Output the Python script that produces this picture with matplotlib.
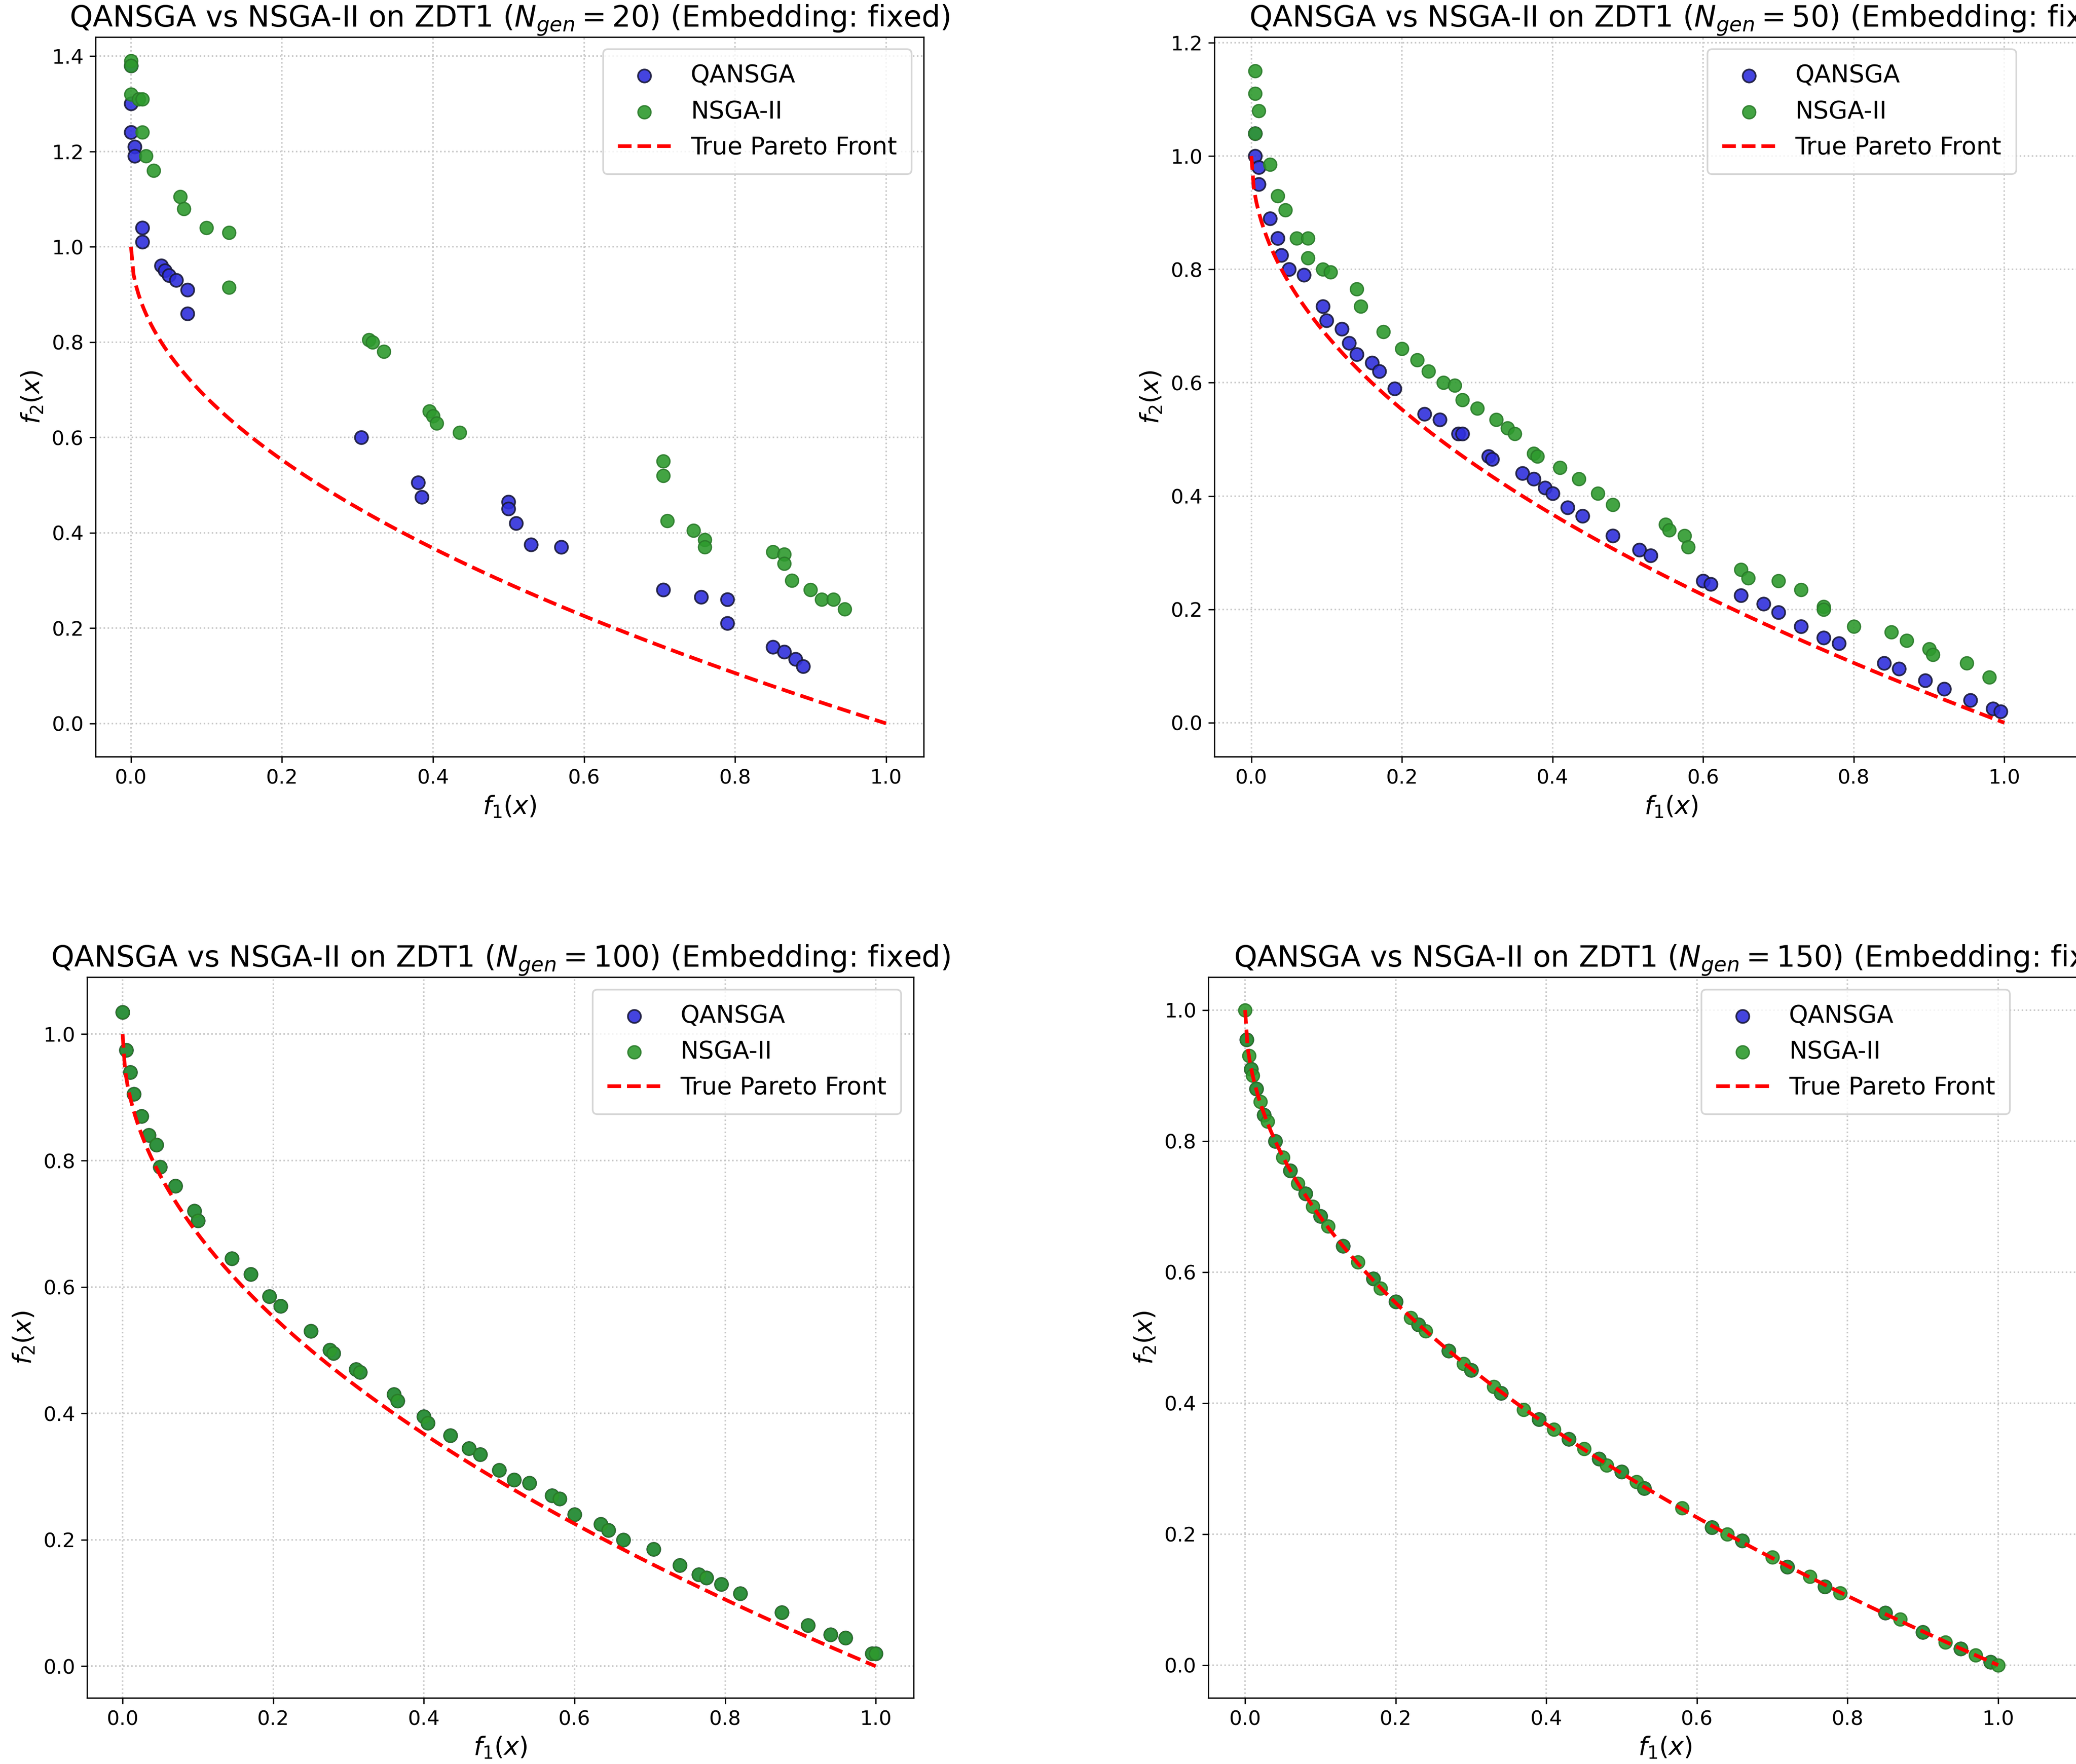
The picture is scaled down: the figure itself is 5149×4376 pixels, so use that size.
import numpy as np
import matplotlib
matplotlib.use("Agg")
import matplotlib.pyplot as plt

GENS = [20, 50, 100, 150]

# ---- N_gen = 20 ----
q20_f1 = [0, 0, 0, 0.005, 0.005, 0.015, 0.015, 0.04, 0.045, 0.05, 0.06, 0.075, 0.075, 0.305, 0.38, 0.385,
          0.5, 0.5, 0.51, 0.53, 0.57, 0.705, 0.755, 0.79, 0.79, 0.85, 0.865, 0.88, 0.89]
q20_f2 = [1.38, 1.30, 1.24, 1.21, 1.19, 1.04, 1.01, 0.96, 0.95, 0.94, 0.93, 0.91, 0.86, 0.60, 0.505, 0.475,
          0.465, 0.45, 0.42, 0.375, 0.37, 0.28, 0.265, 0.26, 0.21, 0.16, 0.15, 0.135, 0.12]
n20_f1 = [0, 0, 0, 0.01, 0.015, 0.015, 0.02, 0.03, 0.065, 0.07, 0.1, 0.13, 0.13, 0.315, 0.32, 0.335, 0.395,
          0.4, 0.405, 0.435, 0.705, 0.705, 0.71, 0.745, 0.76, 0.76, 0.85, 0.865, 0.865, 0.875, 0.9, 0.915, 0.93, 0.945]
n20_f2 = [1.39, 1.38, 1.32, 1.31, 1.31, 1.24, 1.19, 1.16, 1.105, 1.08, 1.04, 1.03, 0.915, 0.805, 0.80, 0.78,
          0.655, 0.645, 0.63, 0.61, 0.55, 0.52, 0.425, 0.405, 0.385, 0.37, 0.36, 0.355, 0.335, 0.30, 0.28, 0.26, 0.26, 0.24]

# ---- N_gen = 50 ----
q50_f1 = [0.005, 0.005, 0.01, 0.01, 0.025, 0.035, 0.04, 0.05, 0.07, 0.095, 0.1, 0.12, 0.13, 0.14, 0.16, 0.17,
          0.19, 0.23, 0.25, 0.275, 0.28, 0.315, 0.32, 0.36, 0.375, 0.39, 0.4, 0.42, 0.44, 0.48, 0.515, 0.53,
          0.6, 0.61, 0.65, 0.68, 0.7, 0.73, 0.76, 0.78, 0.84, 0.86, 0.895, 0.92, 0.955, 0.985, 0.995]
q50_f2 = [1.04, 1.0, 0.98, 0.95, 0.89, 0.855, 0.825, 0.8, 0.79, 0.735, 0.71, 0.695, 0.67, 0.65, 0.635, 0.62,
          0.59, 0.545, 0.535, 0.51, 0.51, 0.47, 0.465, 0.44, 0.43, 0.415, 0.405, 0.38, 0.365, 0.33, 0.305, 0.295,
          0.25, 0.245, 0.225, 0.21, 0.195, 0.17, 0.15, 0.14, 0.105, 0.095, 0.075, 0.06, 0.04, 0.025, 0.02]
n50_f1 = [0.005, 0.005, 0.01, 0.005, 0.025, 0.035, 0.045, 0.06, 0.075, 0.075, 0.095, 0.105, 0.14, 0.145,
          0.175, 0.2, 0.22, 0.235, 0.255, 0.27, 0.28, 0.3, 0.325, 0.34, 0.35, 0.375, 0.38, 0.41, 0.435, 0.46,
          0.48, 0.55, 0.555, 0.575, 0.58, 0.65, 0.66, 0.7, 0.73, 0.76, 0.76, 0.8, 0.85, 0.87, 0.9, 0.905, 0.95, 0.98]
n50_f2 = [1.15, 1.11, 1.08, 1.04, 0.985, 0.93, 0.905, 0.855, 0.855, 0.82, 0.8, 0.795, 0.765, 0.735, 0.69,
          0.66, 0.64, 0.62, 0.6, 0.595, 0.57, 0.555, 0.535, 0.52, 0.51, 0.475, 0.47, 0.45, 0.43, 0.405, 0.385,
          0.35, 0.34, 0.33, 0.31, 0.27, 0.255, 0.25, 0.235, 0.205, 0.2, 0.17, 0.16, 0.145, 0.13, 0.12, 0.105, 0.08]

# ---- N_gen = 100 (both algorithms overlap) ----
p100_f1 = [0, 0.005, 0.01, 0.015, 0.025, 0.035, 0.045, 0.05, 0.07, 0.095, 0.1, 0.145, 0.17, 0.195, 0.21, 0.25,
           0.275, 0.28, 0.31, 0.315, 0.36, 0.365, 0.4, 0.405, 0.435, 0.46, 0.475, 0.5, 0.52, 0.54, 0.57, 0.58,
           0.6, 0.635, 0.645, 0.665, 0.705, 0.74, 0.765, 0.775, 0.795, 0.82, 0.875, 0.91, 0.94, 0.96, 0.995, 1.0]
p100_f2 = [1.035, 0.975, 0.94, 0.905, 0.87, 0.84, 0.825, 0.79, 0.76, 0.72, 0.705, 0.645, 0.62, 0.585, 0.57,
           0.53, 0.5, 0.495, 0.47, 0.465, 0.43, 0.42, 0.395, 0.385, 0.365, 0.345, 0.335, 0.31, 0.295, 0.29, 0.27,
           0.265, 0.24, 0.225, 0.215, 0.2, 0.185, 0.16, 0.145, 0.14, 0.13, 0.115, 0.085, 0.065, 0.05, 0.045, 0.02, 0.02]

# ---- N_gen = 150 (on the front) ----
p150_f1 = [0, 0.002, 0.005, 0.008, 0.01, 0.015, 0.02, 0.025, 0.03, 0.04, 0.05, 0.06, 0.07, 0.08, 0.09, 0.1,
           0.11, 0.13, 0.15, 0.17, 0.18, 0.2, 0.22, 0.23, 0.24, 0.27, 0.29, 0.3, 0.33, 0.34, 0.37, 0.39, 0.41,
           0.43, 0.45, 0.47, 0.48, 0.5, 0.52, 0.53, 0.58, 0.62, 0.64, 0.66, 0.7, 0.72, 0.75, 0.77, 0.79, 0.85,
           0.87, 0.9, 0.93, 0.95, 0.97, 0.99, 1.0]
p150_f2 = [1.0, 0.955, 0.93, 0.91, 0.9, 0.88, 0.86, 0.84, 0.83, 0.8, 0.775, 0.755, 0.735, 0.72, 0.7, 0.685,
           0.67, 0.64, 0.615, 0.59, 0.575, 0.555, 0.53, 0.52, 0.51, 0.48, 0.46, 0.45, 0.425, 0.415, 0.39, 0.375,
           0.36, 0.345, 0.33, 0.315, 0.305, 0.295, 0.28, 0.27, 0.24, 0.21, 0.2, 0.19, 0.165, 0.15, 0.135, 0.12,
           0.11, 0.08, 0.07, 0.05, 0.035, 0.025, 0.015, 0.005, 0.0]

DATA = [
    ((q20_f1, q20_f2), (n20_f1, n20_f2)),
    ((q50_f1, q50_f2), (n50_f1, n50_f2)),
    ((p100_f1, p100_f2), (p100_f1, p100_f2)),
    ((p150_f1[1::2], p150_f2[1::2]), (p150_f1, p150_f2)),
]
YLIMS = [(-0.07, 1.44), (-0.06, 1.21), (-0.05, 1.09), (-0.05, 1.05)]
# right column axes run past the figure edge (clipped, as in the reference)
XLIMS = [(-0.047, 1.05), (-0.049, 1.164), (-0.047, 1.05), (-0.049, 1.164)]
POS = [
    [0.046, 0.571, 0.399, 0.408],
    [0.585, 0.571, 0.44, 0.408],
    [0.042, 0.0375, 0.398, 0.4085],
    [0.582, 0.0375, 0.44, 0.4085],
]
LEG_X = [1.0, 0.891, 1.0, 0.891]

fig = plt.figure(figsize=(5149 / 300, 4376 / 300), dpi=300)
front_x = np.linspace(0, 1, 300)
front_y = 1 - np.sqrt(front_x)

for i, gen in enumerate(GENS):
    ax = fig.add_axes(POS[i])
    (qx, qy), (nx, ny) = DATA[i]
    ax.scatter(qx, qy, s=60, color="#2f2fdc", edgecolors="#1a1a3a", linewidths=1.0,
               alpha=0.9, label="QANSGA", zorder=3)
    ax.scatter(nx, ny, s=60, color="#2e9a2e", edgecolors="#2a7a2a", linewidths=0.8,
               alpha=0.9, label="NSGA-II", zorder=4)
    ax.plot(front_x, front_y, "r--", lw=2.2, label="True Pareto Front", zorder=5)
    ax.set_xlim(*XLIMS[i])
    ax.set_ylim(*YLIMS[i])
    ax.set_xticks([0, 0.2, 0.4, 0.6, 0.8, 1.0])
    ax.grid(True, linestyle=":", color="#c8c8c8", lw=0.9)
    ax.tick_params(labelsize=12)
    ax.set_xlabel(r"$f_1(x)$", fontsize=15)
    ax.set_ylabel(r"$f_2(x)$", fontsize=15)
    title = r"QANSGA vs NSGA-II on ZDT1 ($N_{gen} = %d$) (Embedding: fixed)" % gen
    if i % 2 == 1:
        # title centred on the visible part of the axes
        ax.set_title(title, fontsize=17.5, x=0.55 * 1.1 / 1.21 + 0.02)
    else:
        ax.set_title(title, fontsize=17.5)
    ax.legend(loc="upper right", bbox_to_anchor=(LEG_X[i], 1.0), fontsize=14.5,
              borderpad=0.6, handlelength=2.2)

fig.savefig("out.png", dpi=300)
